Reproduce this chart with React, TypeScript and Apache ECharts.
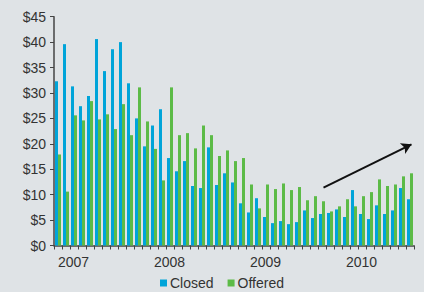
import React, { useEffect, useRef } from "react";
import * as echarts from "echarts";

const years = ["2007", "2008", "2009", "2010"];
const months = ["01", "02", "03", "04", "05", "06", "07", "08", "09", "10", "11", "12"];
const categories: string[] = [];
years.forEach((y) => months.forEach((m) => categories.push(y + "-" + m)));
categories.splice(45);

const closed = [
  32.3, 39.6, 31.3, 27.4, 29.4, 40.6, 34.3, 38.6, 40.0, 31.9, 25.0, 19.5,
  23.6, 26.8, 17.2, 14.6, 16.6, 11.7, 11.3, 19.3, 11.9, 14.2, 12.4, 8.3,
  6.5, 9.3, 5.6, 4.4, 4.8, 4.2, 4.6, 6.9, 5.4, 6.2, 6.4, 7.1,
  5.6, 10.9, 6.2, 5.2, 7.9, 6.2, 6.9, 11.3, 9.1,
];
const offered = [
  17.9, 10.6, 25.6, 24.6, 28.4, 24.8, 25.8, 22.9, 27.8, 21.7, 31.1, 24.4,
  19.0, 12.8, 31.1, 21.7, 22.1, 19.1, 23.6, 21.7, 17.6, 18.7, 16.6, 17.2,
  12.0, 7.3, 12.0, 11.1, 12.2, 10.9, 11.5, 8.9, 9.7, 8.7, 6.7, 7.7,
  9.1, 7.7, 9.7, 10.5, 13.0, 11.7, 12.0, 13.6, 14.2,
];
const trendStart = [33.25, 11.4];
const trendEnd = [43.7, 19.9];

export default function App() {
  const ref = useRef<HTMLDivElement>(null);
  useEffect(() => {
    document.body.style.margin = "0";
    document.body.style.background = "#dfe3e6";
    const chart = echarts.init(ref.current!, null, { renderer: "svg" });
    const font = "'Liberation Sans', Arial, sans-serif";
    chart.setOption({
      animation: false,
      backgroundColor: "#dfe3e6",
      textStyle: { fontFamily: font },
      grid: { left: 54, right: 10, top: 16.7, bottom: 46.5, containLabel: false },
      legend: {
        top: 276,
        left: 160,
        itemWidth: 7,
        itemHeight: 7,
        itemGap: 14,
        icon: "rect",
        padding: 0,
        textStyle: { fontSize: 14, color: "#333", fontFamily: font, padding: [0, 0, 0, -2] },
        data: ["Closed", "Offered"],
      },
      xAxis: {
        type: "category",
        data: categories,
        boundaryGap: true,
        axisLine: { lineStyle: { color: "#444", width: 1.5 } },
        axisTick: { show: true, interval: 0, length: 4, lineStyle: { color: "#444", width: 1 } },
        axisLabel: {
          interval: (i: number) => i % 12 === 0,
          formatter: (v: string) => v.slice(0, 4),
          align: "left",
          margin: 9,
          fontSize: 14,
          color: "#333",
          fontFamily: font,
        },
        splitLine: { show: false },
      },
      yAxis: {
        type: "value",
        min: 0,
        max: 45,
        interval: 5,
        axisLine: { show: true, lineStyle: { color: "#444", width: 1.5 } },
        axisTick: { show: true, length: 4, lineStyle: { color: "#444" } },
        axisLabel: {
          formatter: (v: number) => "$" + v,
          fontSize: 14,
          color: "#333",
          margin: 8,
          fontFamily: font,
        },
        splitLine: { show: false },
      },
      series: [
        {
          name: "Closed",
          type: "bar",
          data: closed,
          barWidth: 3,
          barGap: "0%",
          itemStyle: { color: "#00a4d9" },
        },
        {
          name: "Offered",
          type: "bar",
          data: offered,
          barWidth: 3,
          itemStyle: { color: "#5cbb47" },
          markLine: {
            silent: true,
            symbol: ["none", "arrow"],
            symbolSize: [9, 10],
            label: { show: false },
            lineStyle: { color: "#111", width: 2, type: "solid" },
            data: [[{ coord: trendStart }, { coord: trendEnd }]],
          },
        },
      ],
    });
    return () => chart.dispose();
  }, []);
  return <div ref={ref} style={{ width: 424, height: 292 }} />;
}
